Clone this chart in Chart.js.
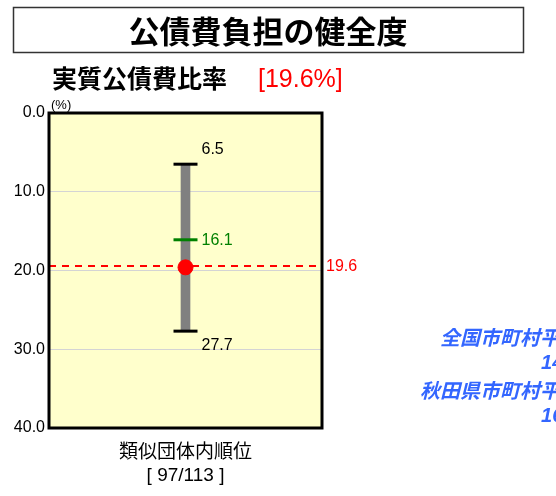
<!DOCTYPE html>
<html lang="ja">
<head>
    <meta charset="UTF-8">
    <title>公債費負担の健全度</title>
    <script src="https://cdn.jsdelivr.net/npm/chart.js"></script>
    <style>
        body { margin: 0; background: #fff; }
        canvas { display: block; }
    </style>
</head>
<body>
    <canvas id="debtChart" width="556" height="496"></canvas>

    <script>
        // Data
        const categories = ["類似団体内順位"];
        const rangeMin = [6.5];        // best in similar group
        const rangeMax = [27.7];       // worst in similar group
        const groupAverage = [16.1];   // similar group average
        const ownRatio = [19.6];       // this municipality
        const yTicks = [0, 10, 20, 30, 40];
        const rankLabel = ["97/113"];
        const avgLabels = ["全国市町村平均", "秋田県市町村平均"];
        const avgValues = [14.1, 16.5];

        const CJK = "'Noto Sans CJK JP', sans-serif";
        const LAT = "'Liberation Sans', Arial, sans-serif";

        const decorations = {
            id: "decorations",
            beforeDraw(chart) {
                const { ctx, chartArea: a } = chart;
                ctx.save();
                ctx.fillStyle = "#ffffcc";
                ctx.fillRect(a.left, a.top, a.right - a.left, a.bottom - a.top);

                // title box
                ctx.strokeStyle = "#333";
                ctx.lineWidth = 1.5;
                ctx.strokeRect(13.5, 7.5, 510, 45);
                ctx.fillStyle = "#000";
                ctx.font = "bold 31px " + CJK;
                ctx.textAlign = "center";
                ctx.textBaseline = "middle";
                ctx.fillText("公債費負担の健全度", 268, 31);

                // subtitle
                ctx.textAlign = "left";
                ctx.font = "bold 25px " + CJK;
                ctx.fillText("実質公債費比率", 52, 78);
                ctx.fillStyle = "#ff0000";
                ctx.font = "25px " + LAT;
                ctx.fillText("[" + ownRatio[0].toFixed(1) + "%]", 258, 80);

                // unit
                ctx.fillStyle = "#000";
                ctx.font = "13px " + LAT;
                ctx.textBaseline = "bottom";
                ctx.fillText("(%)", 51, 112);
                ctx.restore();
            },
            beforeDatasetsDraw(chart) {
                const { ctx, chartArea: a, scales } = chart;
                const y = Math.round(scales.y.getPixelForValue(ownRatio[0])) - 1;
                ctx.save();
                ctx.strokeStyle = "#ff0000";
                ctx.lineWidth = 2;
                ctx.setLineDash([7, 6]);
                ctx.beginPath();
                ctx.moveTo(a.left, y);
                ctx.lineTo(a.right, y);
                ctx.stroke();
                ctx.restore();
            },
            afterDatasetsDraw(chart) {
                const { ctx, chartArea: a, scales } = chart;
                const x = scales.x.getPixelForValue(0);
                const yOf = v => scales.y.getPixelForValue(v);
                ctx.save();
                ctx.textBaseline = "middle";
                ctx.textAlign = "left";
                ctx.font = "16px " + LAT;

                ctx.fillStyle = "#000";
                ctx.fillText(rangeMin[0].toFixed(1), x + 16, yOf(rangeMin[0]) - 15);
                ctx.fillText(rangeMax[0].toFixed(1), x + 16, yOf(rangeMax[0]) + 14);
                ctx.fillStyle = "#008000";
                ctx.fillText(groupAverage[0].toFixed(1), x + 16, yOf(groupAverage[0]) + 1);
                ctx.fillStyle = "#ff0000";
                ctx.fillText(ownRatio[0].toFixed(1), a.right + 4, yOf(ownRatio[0]) - 1);

                // plot frame
                ctx.strokeStyle = "#000";
                ctx.lineWidth = 3;
                ctx.strokeRect(a.left, a.top, a.right - a.left, a.bottom - a.top);

                // category and rank
                ctx.fillStyle = "#000";
                ctx.textAlign = "center";
                ctx.font = "19px " + CJK;
                ctx.fillText(categories[0], x, 451);
                ctx.font = "19px " + LAT;
                ctx.fillText("[ " + rankLabel[0] + " ]", x, 476);

                // averages (run off the right edge)
                ctx.textAlign = "right";
                ctx.fillStyle = "#3366ff";
                avgLabels.forEach((label, i) => {
                    ctx.font = "italic bold 20px " + CJK;
                    ctx.fillText(label, 580, 337 + i * 53);
                    ctx.font = "italic bold 20px " + LAT;
                    ctx.fillText(avgValues[i].toFixed(1), 580, 363 + i * 53);
                });
                ctx.restore();
            }
        };

        new Chart(document.getElementById("debtChart"), {
            type: "bar",
            data: {
                labels: categories,
                datasets: [
                    {
                        type: "line",
                        data: ownRatio,
                        showLine: false,
                        pointStyle: "circle",
                        pointRadius: 7.5,
                        pointBackgroundColor: "#ff0000",
                        pointBorderColor: "#ff0000",
                        order: 0
                    },
                    {
                        type: "line",
                        data: groupAverage,
                        showLine: false,
                        pointStyle: "line",
                        pointRadius: 12,
                        pointBorderWidth: 3,
                        pointBorderColor: "#008000",
                        order: 1
                    },
                    {
                        type: "line",
                        data: rangeMin,
                        showLine: false,
                        pointStyle: "line",
                        pointRadius: 12,
                        pointBorderWidth: 3,
                        pointBorderColor: "#000",
                        order: 1
                    },
                    {
                        type: "line",
                        data: rangeMax,
                        showLine: false,
                        pointStyle: "line",
                        pointRadius: 12,
                        pointBorderWidth: 3,
                        pointBorderColor: "#000",
                        order: 1
                    },
                    {
                        data: rangeMin.map((v, i) => [v, rangeMax[i]]),
                        backgroundColor: "#808080",
                        barThickness: 9,
                        order: 5
                    }
                ]
            },
            options: {
                responsive: false,
                animation: false,
                layout: { padding: { top: 113, bottom: 68, left: 0, right: 234 } },
                plugins: {
                    legend: { display: false },
                    tooltip: { enabled: false }
                },
                scales: {
                    x: { display: false },
                    y: {
                        reverse: true,
                        min: yTicks[0],
                        max: yTicks[yTicks.length - 1],
                        afterBuildTicks: s => { s.ticks = yTicks.map(v => ({ value: v })); },
                        afterFit: s => { s.width = 49; },
                        border: { display: false },
                        grid: { color: "#d4d4d4", drawTicks: false },
                        ticks: {
                            padding: 4,
                            color: "#000",
                            font: { size: 16, family: LAT },
                            callback: v => v.toFixed(1)
                        }
                    }
                }
            },
            plugins: [decorations]
        });
    </script>
</body>
</html>
